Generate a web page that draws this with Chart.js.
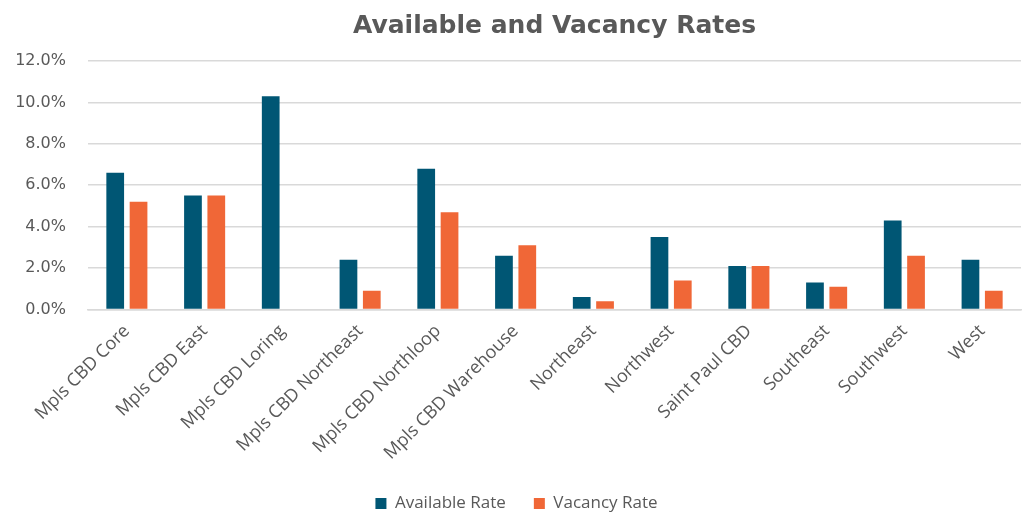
<!DOCTYPE html>
<html>
<head>
<meta charset="utf-8">
<script src="https://cdn.jsdelivr.net/npm/chart.js@4"></script>
<style>
  html, body { margin: 0; padding: 0; background: #fff; }
  #wrap { width: 1022px; height: 515px; }
</style>
</head>
<body>
<div id="wrap"><canvas id="rateChart"></canvas></div>
<script>
const submarkets = ['Mpls CBD Core', 'Mpls CBD East', 'Mpls CBD Loring', 'Mpls CBD Northeast',
  'Mpls CBD Northloop', 'Mpls CBD Warehouse', 'Northeast', 'Northwest', 'Saint Paul CBD',
  'Southeast', 'Southwest', 'West'];
const availableRate = [6.6, 5.5, 10.3, 2.4, 6.8, 2.6, 0.6, 3.5, 2.1, 1.3, 4.3, 2.4];
const vacancyRate = [5.2, 5.5, 0, 0.9, 4.7, 3.1, 0.4, 1.4, 2.1, 1.1, 2.6, 0.9];
const yTicks = [0, 2, 4, 6, 8, 10, 12];

document.addEventListener('DOMContentLoaded', function () {
  Chart.defaults.font.family = '"Open Sans", sans-serif';
  const ctx = document.getElementById('rateChart').getContext('2d');
  new Chart(ctx, {
    type: 'bar',
    data: {
      labels: submarkets,
      datasets: [{
        label: 'Available Rate',
        data: availableRate,
        backgroundColor: '#005674',
        categoryPercentage: 0.6,
        barPercentage: 0.76
      }, {
        label: 'Vacancy Rate',
        data: vacancyRate,
        backgroundColor: '#f06737',
        categoryPercentage: 0.6,
        barPercentage: 0.76
      }]
    },
    options: {
      responsive: true,
      maintainAspectRatio: false,
      animation: false,
      layout: { autoPadding: false, padding: { left: 12, right: 1, top: 0, bottom: 0 } },
      plugins: {
        title: {
          display: true,
          fullSize: false,
          text: 'Available and Vacancy Rates',
          color: '#595959',
          font: { family: '"DejaVu Sans", sans-serif', size: 25, weight: 'bold' },
          padding: { top: 11, bottom: 20 }
        },
        legend: {
          position: 'bottom',
          maxHeight: 48,
          labels: {
            color: '#595959',
            font: { size: 17 },
            boxWidth: 11,
            boxHeight: 11,
            padding: 28
          }
        },
        tooltip: { enabled: false }
      },
      scales: {
        x: {
          grid: { display: false },
          border: { display: true, color: '#d9d9d9', width: 1.5 },
          afterFit: function (scale) {
            scale.paddingLeft = 0;
          },
          ticks: {
            color: '#595959',
            font: { size: 18 },
            maxRotation: 45,
            minRotation: 45,
            padding: 3
          }
        },
        y: {
          min: yTicks[0],
          max: yTicks[yTicks.length - 1],
          afterBuildTicks: function (axis) {
            axis.ticks = yTicks.map(v => ({ value: v }));
          },
          afterFit: function (axis) {
            axis.width = 76;
          },
          grid: { color: '#d9d9d9', lineWidth: 1.5, drawTicks: false },
          border: { display: false },
          ticks: {
            color: '#595959',
            font: { family: '"DejaVu Sans", sans-serif', size: 16 },
            padding: 22,
            callback: v => v.toFixed(1) + '%'
          }
        }
      }
    }
  });
});
</script>
</body>
</html>
